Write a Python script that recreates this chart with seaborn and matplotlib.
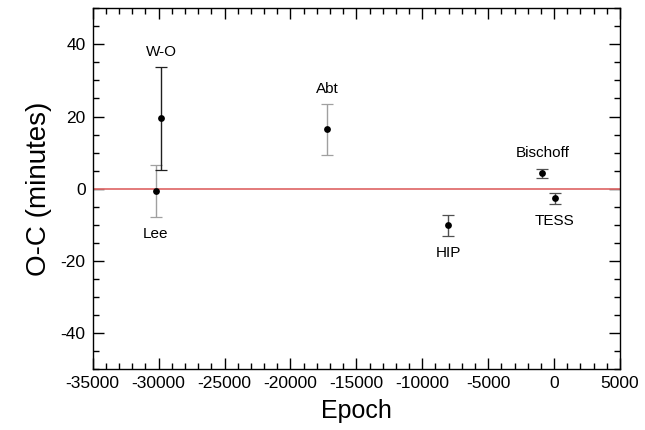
import matplotlib
matplotlib.use('Agg')
import matplotlib.pyplot as plt
import seaborn as sns
import pandas as pd
from matplotlib.ticker import MultipleLocator

sns.set_theme(style='ticks')
plt.rcParams['font.family'] = ['Liberation Sans', 'DejaVu Sans']
plt.rcParams['axes.unicode_minus'] = False
plt.rcParams['text.color'] = 'black'
plt.rcParams['axes.labelcolor'] = 'black'
plt.rcParams['xtick.color'] = 'black'
plt.rcParams['ytick.color'] = 'black'

# O-C timing data
names = ['Lee', 'W-O', 'Abt', 'HIP', 'Bischoff', 'TESS']
epoch = [-30200, -29800, -17200, -8050, -900, 50]
oc = [-0.7, 19.5, 16.4, -10.2, 4.2, -2.7]
err = [7.2, 14.3, 7.1, 2.85, 1.3, 1.5]
bar_colors = ['#a0a0a0', '#202020', '#a0a0a0', '#505050', '#505050', '#505050']
# label offsets in data units (dy, above/below)
label_dy = [-12.0, 18.5, 11.3, -7.6, 5.6, -6.4]

df = pd.DataFrame({'name': names, 'epoch': epoch, 'oc': oc, 'err': err})

fig = plt.figure(figsize=(6.45, 4.3), dpi=100)
ax = fig.add_axes([0.1437, 0.1419, 0.8176, 0.8388])

ax.axhline(0, color='#e07070', lw=1.3, zorder=1)

for i, row in df.iterrows():
    ax.errorbar(row['epoch'], row['oc'], yerr=row['err'], fmt='none',
                ecolor=bar_colors[i], elinewidth=1.0, capsize=4.5, capthick=0.9, zorder=2)

sns.scatterplot(data=df, x='epoch', y='oc', color='black', s=24, edgecolor='black',
                linewidth=0, zorder=3, ax=ax, legend=False)

for i, row in df.iterrows():
    ax.text(row['epoch'], row['oc'] + label_dy[i], row['name'], ha='center', va='center',
            fontsize=11, color='black')

ax.set_xlim(-35000, 5000)
ax.set_ylim(-50, 50)
ax.xaxis.set_major_locator(MultipleLocator(5000))
ax.xaxis.set_minor_locator(MultipleLocator(1000))
ax.yaxis.set_major_locator(MultipleLocator(20))
ax.yaxis.set_minor_locator(MultipleLocator(5))
ax.tick_params(which='both', direction='in', top=True, right=True, color='black', width=1)
ax.tick_params(which='major', length=8, labelsize=12.5, pad=5, labelcolor='black')
ax.tick_params(which='minor', length=4.5)
for s in ax.spines.values():
    s.set_color('black')
    s.set_linewidth(1.0)

ax.set_xlabel('Epoch', fontsize=18, labelpad=6)
ax.set_ylabel('O-C (minutes)', fontsize=20, labelpad=6)

fig.savefig('out.png', dpi=100)
